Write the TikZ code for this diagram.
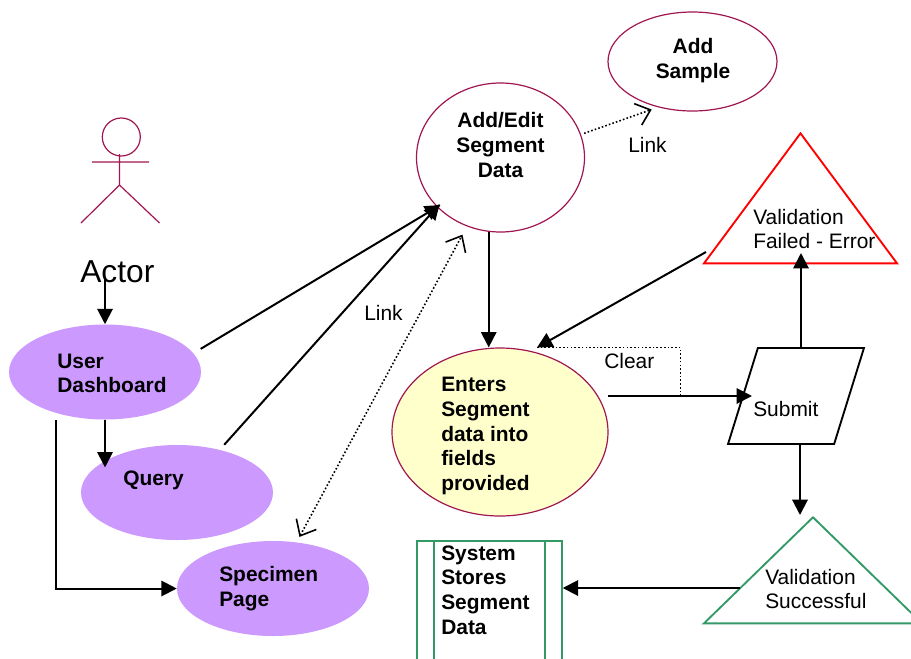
\documentclass[tikz,border=0pt]{standalone}
\usepackage{fontspec}
\setmainfont{Liberation Sans}
\usetikzlibrary{arrows.meta,shapes.geometric,calc}
\definecolor{maroonline}{HTML}{A01650}
\definecolor{lilacfill}{HTML}{CC99FF}
\definecolor{creamfill}{HTML}{FFFFCC}
\definecolor{greenline}{HTML}{339966}
\tikzset{
  x=0.75pt,y=-0.75pt,
  disc/.style 2 args={ellipse,inner sep=0pt,minimum width=#1*0.75pt,minimum height=#2*0.75pt},
  lilac/.style={fill=lilacfill,draw=none},
  plainoval/.style={draw=maroonline,line width=0.9pt},
  txt/.style={inner sep=0pt,align=left,font=\fontsize{15.7}{18.4}\selectfont},
  btxt/.style={txt,font=\fontsize{15.7}{18.4}\selectfont\bfseries},
  flow/.style={line width=1.5pt,-{Triangle[length=11.5pt,width=11.5pt]}},
  linkline/.style={line width=1.2pt,dash pattern=on 1.2pt off 1.6pt},
  linkboth/.style={linkline,{Straight Barb[length=10pt,width=17pt,line width=1.2pt]}-{Straight Barb[length=10pt,width=17pt,line width=1.2pt]}},
  linkend/.style={linkline,-{Straight Barb[length=10pt,width=17pt,line width=1.2pt]}},
  tri/.style={isosceles triangle,isosceles triangle apex angle=90,shape border rotate=90,isosceles triangle stretches,inner sep=0pt,anchor=apex},
  stick/.style={draw=maroonline,line width=0.9pt},
}
\begin{document}
\begin{tikzpicture}
\useasboundingbox (0,0) rectangle (911,658);
% stick figure
\draw[stick] (121.3,137) circle [radius=19];
\draw[stick] (119.5,154) -- (119.5,185) (92,162) -- (149,162) (81,223) -- (119.5,185) -- (159.5,223);
% shapes
\node[disc={192}{95},lilac] (dash) at (105,372) {};
\node[disc={192}{95},lilac] (query) at (177,492.5) {};
\node[disc={192}{95},lilac] (spec) at (273,588.5) {};
\node[disc={168}{149},plainoval] (edit) at (500.5,157.5) {};
\node[disc={169}{99},plainoval] (sample) at (692.5,61.5) {};
\node[disc={216}{168},plainoval,fill=creamfill] (enter) at (500,432) {};
\node[tri,draw=red,line width=1.4pt,minimum width=193*0.75pt,minimum height=130*0.75pt] (redtri) at (800.5,132) {};
\node[tri,draw=greenline,line width=1.4pt,minimum width=218*0.75pt,minimum height=106*0.75pt] (greentri) at (813,516) {};
\node[trapezium,trapezium stretches,trapezium left angle=69.4,trapezium right angle=110.6,draw=black,line width=1.4pt,inner sep=1pt,minimum width=136*0.75pt,minimum height=96*0.75pt] (submit) at (796,396) {\phantom{x}};
\node[rectangle,draw=greenline,line width=1.3pt,inner sep=0pt,minimum width=145*0.75pt,minimum height=126*0.75pt,anchor=north west] (stores) at (416,540) {};
\draw[greenline,line width=1.3pt] ([xshift=13.5pt]stores.north west) -- ([xshift=13.5pt]stores.south west)
  ([xshift=-13.5pt]stores.north east) -- ([xshift=-13.5pt]stores.south east);
% texts
\node[txt,anchor=west,font=\fontsize{23.8}{28}\selectfont] (actor) at (80,272) {Actor};
\node[btxt,anchor=west] (dashT) at (57,373.5) {User\\Dashboard};
\node[btxt,anchor=west] (queryT) at (123,480) {Query};
\node[btxt,anchor=west] (specT) at (219,588.5) {Specimen\\Page};
\node[btxt,align=center] (editT) at (500.5,145) {Add/Edit\\Segment\\Data};
\node[btxt,align=center] (sampleT) at (693,60.5) {Add\\Sample};
\node[btxt,anchor=west] (enterT) at (441,436) {Enters\\Segment\\data into\\fields\\provided};
\node[btxt,anchor=west] (storesT) at (441,590) {System\\Stores\\Segment\\Data};
\node[txt,anchor=west] (submitT) at (753,409) {Submit};
\node[txt,anchor=west] (redT) at (753,229) {Validation\\Failed - Error};
\node[txt,anchor=west] (greenT) at (765,589) {Validation\\Successful};
\node[txt,anchor=west] (clearT) at (604,361) {Clear};
\node[txt,anchor=west] (linkA) at (364,313) {Link};
\node[txt,anchor=west] (linkB) at (628,145) {Link};
% free ends
\coordinate (actorOut) at (105,278);
\coordinate (redOut) at (706,252);
\coordinate (clearIn) at (537,347.5);
\coordinate (submitIn) at (752,396);
\coordinate (enterOut) at (608,396);
\coordinate (clearOut) at (680.5,396);
\coordinate (redIn) at (801,253);
\coordinate (greenIn) at (800,515);
\coordinate (greenOut) at (740,588);
% connectors
\draw[flow] (actorOut) -- (actorOut |- dash.north);
\draw[flow,shorten <=6.3pt,shorten >=-3pt] (dash.12.5) -- (edit.218.8);
\draw[flow,shorten <=5pt,shorten >=-3pt] (query.45) -- (edit.218.8);
\draw[flow] (dash.south) -- (dash.south |- query.163);
\draw[flow] (dash.220.9 |- dash.south) |- (spec.west);
\draw[linkboth,shorten <=4.5pt,shorten >=7pt] (spec.63.4) -- (edit.244.2);
\draw[linkend,shorten <=2.5pt,shorten >=5pt] (edit.16.4) -- (sample.233.6);
\draw[flow] (edit.261.5) -- (edit.261.5 |- enter.north);
\draw[flow] (redOut) -- (clearIn);
\draw[flow] (enterOut) -- (submitIn);
\draw[linkline] (clearOut) |- (clearIn);
\draw[flow] (redIn |- submit.north) -- (redIn);
\draw[flow] (greenIn |- submit.south) -- (greenIn);
\draw[flow] (greenOut) -- (greenOut -| stores.east);
\end{tikzpicture}
\end{document}
